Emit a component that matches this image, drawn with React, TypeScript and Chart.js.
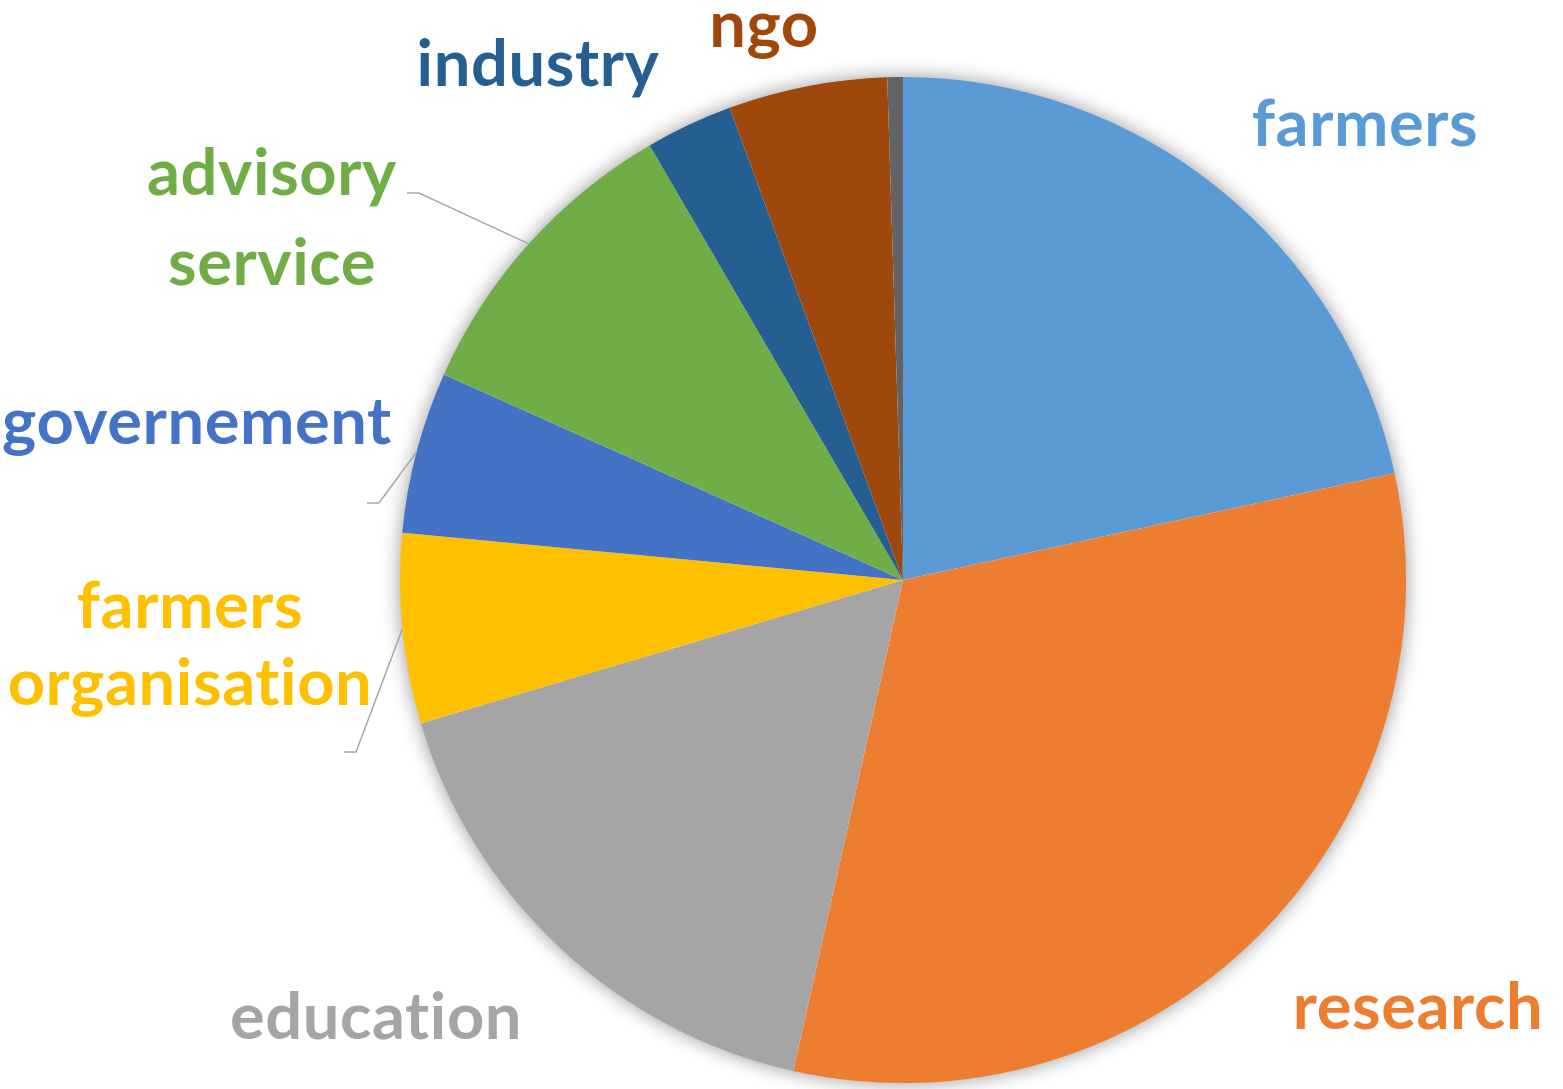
import React, { useEffect, useRef } from "react";
import { Chart, registerables } from "chart.js";

Chart.register(...registerables);

const categories = [
  "farmers",
  "research",
  "education",
  "farmers organisation",
  "governement",
  "advisory service",
  "industry",
  "ngo",
  "other",
];
const shares = [21.6, 31.9, 16.9, 6.1, 5.2, 9.9, 2.8, 5.1, 0.5];
const colors = [
  "#5B9BD5",
  "#ED7D31",
  "#A5A5A5",
  "#FFC000",
  "#4472C4",
  "#70AD47",
  "#255E91",
  "#9E480E",
  "#636363",
];
const labelLines = [
  ["farmers"],
  ["research"],
  ["education"],
  ["farmers", "organisation"],
  ["governement"],
  ["advisory", "service"],
  ["industry"],
  ["ngo"],
  [],
];

// label placement (px offsets from pie centre: x centre, first baseline, line gap)
const labelPlacement = [
  { dx: 462, dy: -434, gap: 0, leader: null },
  { dx: 515, dy: 449, gap: 0, leader: null },
  { dx: -527, dy: 459, gap: 0, leader: null },
  { dx: -713, dy: 48, gap: 77, leader: { ex: -547, ey: 172, len: 12 } },
  { dx: -706, dy: -136, gap: 0, leader: { ex: -524, ey: -77, len: 12 } },
  { dx: -631, dy: -385, gap: 90, leader: { ex: -484, ey: -387, len: 12 } },
  { dx: -365, dy: -494, gap: 0, leader: null },
  { dx: -139, dy: -533, gap: 0, leader: null },
  null,
];

const FONT = "bold 65px Lato, 'Open Sans', sans-serif";

const shadowPlugin = {
  id: "pieShadow",
  beforeDatasetsDraw(chart: any) {
    const meta = chart.getDatasetMeta(0);
    const arc = meta.data[0];
    if (!arc) return;
    const { x, y, outerRadius } = arc.getProps(["x", "y", "outerRadius"], true);
    const ctx = chart.ctx;
    ctx.save();
    ctx.shadowColor = "rgba(0,0,0,0.45)";
    ctx.shadowBlur = 20;
    ctx.beginPath();
    ctx.arc(x, y, outerRadius - 1, 0, Math.PI * 2);
    ctx.fillStyle = "#ffffff";
    ctx.fill();
    ctx.restore();
  },
};

const labelPlugin = {
  id: "outsideLabels",
  afterDatasetsDraw(chart: any) {
    const meta = chart.getDatasetMeta(0);
    const ctx = chart.ctx;
    ctx.save();
    meta.data.forEach((arc: any, i: number) => {
      const place = labelPlacement[i];
      const lines = labelLines[i];
      if (!place || !lines.length) return;
      const { x, y, startAngle, endAngle, outerRadius } = arc.getProps(
        ["x", "y", "startAngle", "endAngle", "outerRadius"],
        true
      );
      if (place.leader) {
        const mid = (startAngle + endAngle) / 2;
        const px = x + Math.cos(mid) * outerRadius;
        const py = y + Math.sin(mid) * outerRadius;
        const ex = x + place.leader.ex;
        const ey = y + place.leader.ey;
        ctx.beginPath();
        ctx.moveTo(px, py);
        ctx.lineTo(ex, ey);
        ctx.lineTo(ex - place.leader.len, ey);
        ctx.strokeStyle = "#A6A6A6";
        ctx.lineWidth = 1.5;
        ctx.stroke();
      }
      ctx.font = FONT;
      if ("letterSpacing" in ctx) (ctx as any).letterSpacing = "0.6px";
      ctx.fillStyle = colors[i];
      ctx.textAlign = "center";
      ctx.textBaseline = "alphabetic";
      lines.forEach((line: string, k: number) => {
        ctx.fillText(line, x + place.dx, y + place.dy + k * place.gap);
      });
    });
    ctx.restore();
  },
};

export default function App() {
  const canvasRef = useRef<HTMLCanvasElement | null>(null);

  useEffect(() => {
    document.body.style.margin = "0";
    const canvas = canvasRef.current;
    if (!canvas) return;
    const chart = new Chart(canvas, {
      type: "pie",
      data: {
        labels: categories,
        datasets: [
          {
            data: shares,
            backgroundColor: colors,
            borderWidth: 0,
          },
        ],
      },
      options: {
        animation: false,
        responsive: true,
        maintainAspectRatio: false,
        layout: { padding: { left: 400, right: 157, top: 77, bottom: 6 } },
        plugins: {
          legend: { display: false },
          tooltip: { enabled: false },
        },
      },
      plugins: [shadowPlugin, labelPlugin],
    });
    let alive = true;
    if ((document as any).fonts && (document as any).fonts.load) {
      (document as any).fonts.load(FONT).then(() => {
        if (alive) chart.draw();
      });
    }
    return () => {
      alive = false;
      chart.destroy();
    };
  }, []);

  return (
    <div
      style={{
        position: "fixed",
        left: 0,
        top: 0,
        width: 1563,
        height: 1089,
        background: "#ffffff",
      }}
    >
      <canvas ref={canvasRef} />
    </div>
  );
}
